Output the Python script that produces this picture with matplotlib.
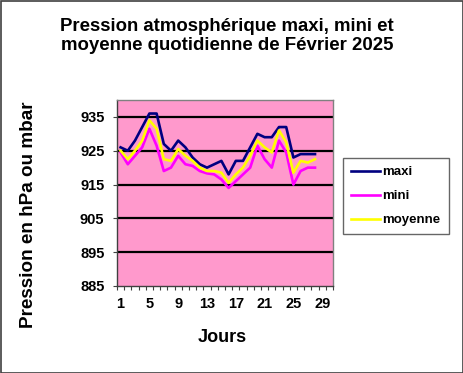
import numpy as np
import matplotlib
matplotlib.use("Agg")
import matplotlib.pyplot as plt
from matplotlib.patches import Rectangle

# données
jours = list(range(1, 29))
maxi = [926, 925, 928, 932, 936, 936, 927, 925, 928, 926, 923, 921, 920, 921,
        922, 918, 922, 922, 926, 930, 929, 929, 932, 932, 923, 924, 924, 924]
mini = [924.5, 921, 923.5, 926, 931.5, 926.5, 919, 920, 923.5, 921, 920.5, 919, 918.3, 918,
        916.5, 914, 916, 918, 920, 926.5, 922.5, 920, 928, 924.5, 915, 919, 920, 920]
moyenne = [925, 922.5, 925, 928, 934, 931.5, 922.5, 922, 925.5, 923.5, 922, 920, 919, 919,
           918.5, 915.5, 918, 920, 923.5, 928, 926, 924.5, 931, 927.5, 918.5, 922, 921.5, 922.5]
x_labels = [1, 5, 9, 13, 17, 21, 25, 29]
y_ticks = [885, 895, 905, 915, 925, 935]

plt.rcParams['font.family'] = ['Liberation Sans', 'DejaVu Sans']
plt.rcParams['font.weight'] = 'bold'

W, H = 464, 373
fig = plt.figure(figsize=(W / 100, H / 100), dpi=100)
fig.patch.set_facecolor('white')
# cadre du graphique
fig.add_artist(Rectangle((0.5 / W, 0.5 / H), (W - 1.5) / W, (H - 1.5) / H,
                         transform=fig.transFigure, fill=False,
                         edgecolor='#404040', linewidth=1.2))

ax = fig.add_axes([117 / W, 1 - 286 / H, 216 / W, 186 / H])
ax.set_facecolor('#FF99CC')

for y in y_ticks[1:]:
    ax.axhline(y, color='black', linewidth=1.6, zorder=1)

ax.plot(jours, maxi, color='#000080', linewidth=1.9, label='maxi', zorder=3)
ax.plot(jours, mini, color='#FF00FF', linewidth=1.9, label='mini', zorder=3)
ax.plot(jours, moyenne, color='#FFFF00', linewidth=1.9, label='moyenne', zorder=4)

ax.set_xlim(0.5, 30.5)
ax.set_ylim(885, 940)

ax.set_xticks(np.arange(0.5, 31, 1))
ax.set_xticklabels([])
ax.set_xticks(x_labels, minor=True)
ax.set_xticklabels([str(v) for v in x_labels], minor=True)
ax.tick_params(axis='x', which='major', direction='out', length=3, width=0.8, color='#404040')
ax.tick_params(axis='x', which='minor', length=0, pad=8, labelsize=10.5)

ax.set_yticks(y_ticks)
ax.set_yticklabels([str(v) for v in y_ticks])
ax.tick_params(axis='y', direction='out', length=3, width=0.8, color='#404040', pad=6, labelsize=10.5)

for s in ['top', 'right']:
    ax.spines[s].set_color('#808080')
    ax.spines[s].set_linewidth(1)
for s in ['left', 'bottom']:
    ax.spines[s].set_color('#404040')
    ax.spines[s].set_linewidth(1)

fig.text(227 / W, 1 - 36 / H, 'Pression atmosphérique maxi, mini et\nmoyenne quotidienne de Février 2025',
         ha='center', va='center', fontsize=13.4, fontweight='bold', linespacing=1.2)
fig.text(29 / W, 1 - 215 / H, 'Pression en hPa ou mbar', rotation=90,
         ha='center', va='center', fontsize=13.6, fontweight='bold')
fig.text(222 / W, 1 - 338 / H, 'Jours', ha='center', va='center',
         fontsize=13, fontweight='bold')

leg = fig.legend(loc='upper left', bbox_to_anchor=(343 / W, 1 - 158 / H),
                 frameon=True, fancybox=False, handlelength=2.2,
                 handletextpad=0.2, borderpad=0.6, labelspacing=0.9,
                 borderaxespad=0, prop={'weight': 'bold', 'size': 9.5})
leg.get_frame().set_edgecolor('#404040')
leg.get_frame().set_linewidth(1)

fig.savefig('out.png', dpi=100)
